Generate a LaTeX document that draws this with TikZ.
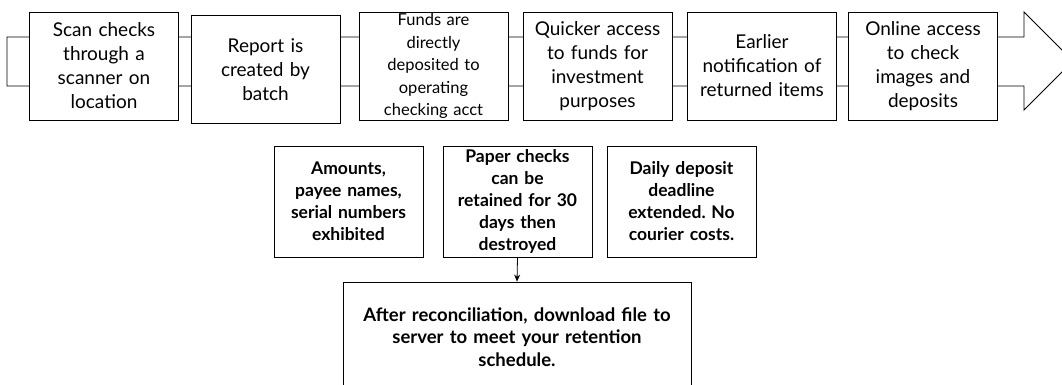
\documentclass[tikz,border=0pt]{standalone}
\usepackage{fontspec}
\setmainfont{Lato}
\usetikzlibrary{arrows.meta}
\begin{document}
\frenchspacing
\begin{tikzpicture}[x=1pt,y=-1pt,
  topbox/.style={draw=black,line width=0.8pt,fill=white,minimum width=149pt,minimum height=108pt,inner sep=1pt,text width=147pt,align=center,font=\fontsize{19}{24}\selectfont},
  smallbox/.style={topbox,font=\fontsize{16.5}{22.5}\selectfont},
  boldbox/.style={draw=black,line width=0.8pt,fill=white,minimum width=149pt,minimum height=111pt,inner sep=1pt,text width=147pt,align=center,font=\fontsize{17.5}{22}\selectfont\bfseries},
  bigbox/.style={boldbox,minimum width=348pt,minimum height=110pt,text width=340pt,font=\fontsize{18.5}{22.5}\selectfont\bfseries},
  conn/.style={draw=black,line width=0.8pt,-{Stealth[length=7pt,width=6pt]}}]
\useasboundingbox (0,0) rectangle (1062,385);
\begin{scope}
\clip (0,0) rectangle (1062,385);
\draw[line width=0.9pt,fill=white] (7,37) -- (1024,37) -- (1024,12) -- (1073,61) -- (1024,110) -- (1024,86) -- (7,86) -- cycle;
\node[topbox] (b1) at (104,66) {Scan checks\\through a\\scanner on\\location};
\node[topbox] (b2) at (265.5,69.5) {Report is\\created by\\batch};
\node[smallbox] (b3) at (433.5,66) {Funds are\\directly\\deposited to\\operating\\checking acct};
\node[topbox] (b4) at (597.5,66) {Quicker access\\to funds for\\investment\\purposes};
\node[topbox] (b5) at (762,66) {Earlier\\notification of\\returned items};
\node[topbox] (b6) at (923,66) {Online access\\to check\\images and\\deposits};
\node[boldbox] (c1) at (348.5,201.5) {Amounts,\\payee names,\\serial numbers\\exhibited};
\node[boldbox] (c2) at (517.5,201.5) {Paper checks\\can be\\retained for 30\\days then\\destroyed};
\node[boldbox] (c3) at (681.5,201.5) {Daily deposit\\deadline\\extended. No\\courier costs.};
\node[bigbox] (d) at (517,337) {After reconciliation, download file to\\server to meet your retention\\schedule.};
\draw[conn] (c2.south) -- (d.north);
\end{scope}
\end{tikzpicture}
\end{document}
